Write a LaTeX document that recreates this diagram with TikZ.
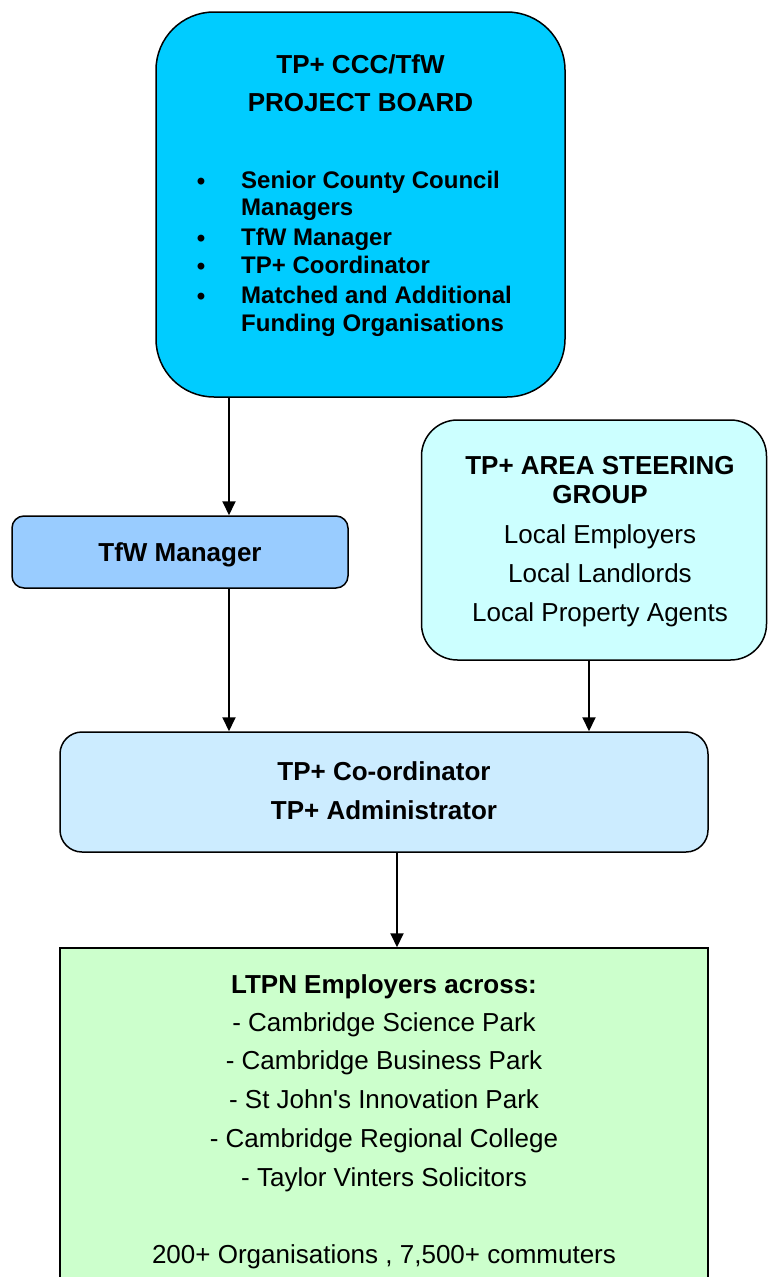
\documentclass[tikz,border=0pt]{standalone}
\usepackage{fontspec}
\setmainfont{Liberation Sans}
\usetikzlibrary{arrows.meta}
\definecolor{boardc}{HTML}{00CCFF}
\definecolor{steerc}{HTML}{CCFFFF}
\definecolor{tfwc}{HTML}{99CCFF}
\definecolor{coordc}{HTML}{CCECFF}
\definecolor{greenc}{HTML}{CCFFCC}
\begin{document}
\begin{tikzpicture}[x=1pt,y=-1pt,
  box/.style={draw, line width=1.5pt, inner sep=0pt},
  txt/.style={inner sep=0pt, text height=18.6pt, text depth=0pt, font=\fontsize{26}{31}\selectfont},
  txtb/.style={txt, font=\fontsize{26}{31}\selectfont\bfseries},
  blt/.style={inner sep=0pt, text height=17.2pt, text depth=0pt, font=\fontsize{24}{28}\selectfont\bfseries, anchor=west},
  arr/.style={line width=1.9pt, -{Triangle[length=14pt,width=13pt]}}]
\useasboundingbox (0,0) rectangle (768,1277);
\clip (0,0) rectangle (768,1277);
% boxes
\node[box, fill=boardc, rounded corners=58pt, minimum width=409pt, minimum height=385pt] (board) at (360.5,204.5) {};
\node[box, fill=steerc, rounded corners=36pt, minimum width=345pt, minimum height=240pt] (steer) at (594,540) {};
\node[box, fill=tfwc, rounded corners=12pt, minimum width=336pt, minimum height=72pt] (tfw) at (180,552) {};
\node[box, fill=coordc, rounded corners=22pt, minimum width=648pt, minimum height=120pt] (coord) at (384,792) {};
\node[box, fill=greenc, minimum width=648pt, minimum height=360pt] (green) at (384,1128) {};
% board text
\node[txtb] (b1) at (360.5,64) {TP+ CCC/TfW};
\node[txtb] (b2) at (360.5,102.5) {PROJECT BOARD};
\foreach \y in {180,237,265,295} {\node[blt, anchor=center] at (201,\y+1) {•};}
\node[blt] (l1) at (241,180) {Senior County Council};
\node[blt] (l2) at (241,207) {Managers};
\node[blt] (l3) at (241,237) {TfW Manager};
\node[blt] (l4) at (241,265) {TP+ Coordinator};
\node[blt] (l5) at (241,295) {Matched and Additional};
\node[blt] (l6) at (241,323) {Funding Organisations};
% steering text
\node[txtb] (s1) at (600,465) {TP+ AREA STEERING};
\node[txtb] (s2) at (600,494) {GROUP};
\node[txt] (s3) at (600,534) {Local Employers};
\node[txt] (s4) at (600,573) {Local Landlords};
\node[txt] (s5) at (600,612) {Local Property Agents};
% tfw text
\node[txtb] (t1) at (180,552) {TfW Manager};
% coord text
\node[txtb] (c1) at (384,771) {TP+ Co-ordinator};
\node[txtb] (c2) at (384,810) {TP+ Administrator};
% green text
\node[txtb] (g1) at (384,984) {LTPN Employers across:};
\node[txt] (g2) at (384,1022) {- Cambridge Science Park};
\node[txt] (g3) at (384,1060) {- Cambridge Business Park};
\node[txt] (g4) at (384,1099) {- St John\textquotesingle s Innovation Park};
\node[txt] (g5) at (384,1138) {- Cambridge Regional College};
\node[txt] (g6) at (384,1177) {- Taylor Vinters Solicitors};
\node[txt] (g7) at (384,1254) {200+ Organisations , 7,500+ commuters};
% connectors
\coordinate (xa) at (229,0);
\coordinate (xb) at (589,0);
\coordinate (xc) at (397,0);
\draw[arr] (board.south -| xa) -- (tfw.north -| xa);
\draw[arr] (tfw.south -| xa) -- (coord.north -| xa);
\draw[arr] (steer.south -| xb) -- (coord.north -| xb);
\draw[arr] (coord.south -| xc) -- (green.north -| xc);
\end{tikzpicture}
\end{document}
